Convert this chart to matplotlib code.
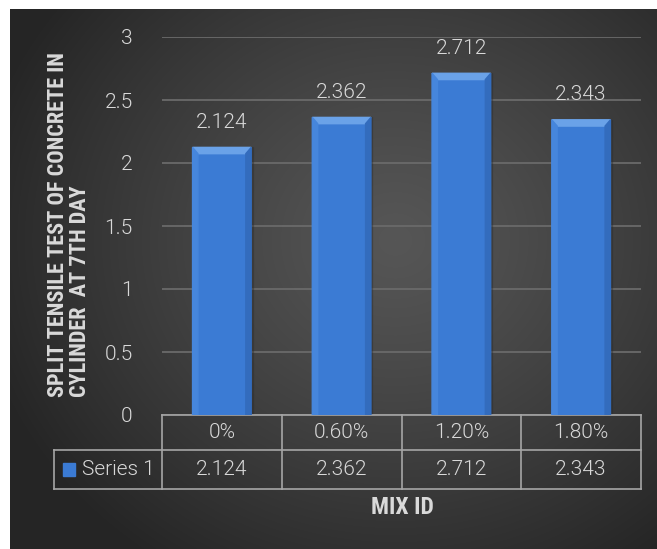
import matplotlib.pyplot as plt
import numpy as np
from matplotlib.patches import Polygon, Rectangle
from matplotlib.lines import Line2D
from matplotlib import font_manager

# data
mix_ids = ["0%", "0.60%", "1.20%", "1.80%"]
tensile = [2.124, 2.362, 2.712, 2.343]
series_name = "Series 1"
yticks = [0, 0.5, 1, 1.5, 2, 2.5, 3]

avail = {f.name for f in font_manager.fontManager.ttflist}
num_font = "Roboto" if "Roboto" in avail else "DejaVu Sans"
lab_font = num_font
for cand in ["Roboto Condensed", "Liberation Sans Narrow"]:
    if cand in avail:
        lab_font = cand
        break
txt_col = "#d9d9d9"
num_kw = dict(fontsize=15, color=txt_col, family=num_font, fontweight=300)

W, H = 657, 549
fig = plt.figure(figsize=(W / 100, H / 100), dpi=100)
fig.patch.set_facecolor("#2a2a2a")

# dark radial gradient background
bg = fig.add_axes([0, 0, 1, 1], zorder=-5)
yy, xx = np.mgrid[0:H, 0:W]
r = np.sqrt(((xx - 395) / 430.0) ** 2 + ((yy - 240) / 390.0) ** 2)
r = np.clip(r, 0, 1)
shade = 0x56 - (0x56 - 0x25) * r ** 1.2
img = np.dstack([shade, shade, shade]) / 255.0
img[:9, :, :] = 1.0
img[:, :10, :] = 1.0
bg.imshow(img, aspect="auto", extent=[0, 1, 0, 1], interpolation="nearest")
bg.set_xlim(0, 1)
bg.set_ylim(0, 1)
bg.set_axis_off()

ax = fig.add_axes([162 / W, 1 - 415 / H, 479 / W, 378 / H])
ax.set_facecolor("none")
ax.set_xlim(-0.5, len(mix_ids) - 0.5)
ax.set_ylim(0, 3)
for s in ax.spines.values():
    s.set_visible(False)
ax.set_xticks([])
ax.set_yticks(yticks)
ax.set_yticklabels([f"{t:g}" for t in yticks], **num_kw)
ax.tick_params(axis="y", length=0, pad=21)
ax.yaxis.grid(True, color="#6a6a6a", linewidth=1.3)
ax.set_axisbelow(True)

x = np.arange(len(mix_ids))
bw = 0.49
bars = ax.bar(x, tensile, width=bw, color="#3b7bd4", edgecolor="none", zorder=3)

# bevel look on the bars
dx, dy = 0.045, 0.05
for b, v in zip(bars, tensile):
    x0 = b.get_x()
    x1 = x0 + b.get_width()
    ax.add_patch(Rectangle((x1, 0), 0.012, v, color="#2a2a2a", alpha=0.3, zorder=2))
    ax.add_patch(Polygon([(x0, v), (x1, v), (x1 - dx, v - dy), (x0 + dx, v - dy)],
                         closed=True, color="#6aa2e8", zorder=4))
    ax.add_patch(Polygon([(x0, v), (x0 + dx, v - dy), (x0 + dx, 0), (x0, 0)],
                         closed=True, color="#4686dc", zorder=4))
    ax.add_patch(Polygon([(x1, v), (x1 - dx, v - dy), (x1 - dx, 0), (x1, 0)],
                         closed=True, color="#336cbd", zorder=4))
    ax.annotate(f"{v:.3f}", (b.get_x() + b.get_width() / 2, v), xytext=(0, 18),
                textcoords="offset points", ha="center", va="center", **num_kw)

# data table below the axis
tr = ax.get_xaxis_transform()
row1 = -35 / 378
row2 = -74 / 378
leg_left = -0.5 - 108 / 120
lc = "#a6a6a6"
lw = 1.2
ax.add_line(Line2D([-0.5, 3.5], [0, 0], transform=tr, color=lc, lw=lw, clip_on=False))
ax.add_line(Line2D([leg_left, 3.5], [row1, row1], transform=tr, color=lc, lw=lw, clip_on=False))
ax.add_line(Line2D([leg_left, 3.5], [row2, row2], transform=tr, color=lc, lw=lw, clip_on=False))
ax.add_line(Line2D([leg_left, leg_left], [row1, row2], transform=tr, color=lc, lw=lw, clip_on=False))
for i in range(len(mix_ids) + 1):
    xe = i - 0.5
    ax.add_line(Line2D([xe, xe], [0, row2], transform=tr, color=lc, lw=lw, clip_on=False))
for i, (m, v) in enumerate(zip(mix_ids, tensile)):
    ax.text(i, row1 / 2, m, transform=tr, ha="center", va="center", **num_kw)
    ax.text(i, (row1 + row2) / 2, f"{v:.3f}", transform=tr, ha="center", va="center", **num_kw)
# legend key in table
ax.add_patch(Rectangle((leg_left + 0.075, (row1 + row2) / 2 - 0.018), 0.1, 0.036,
                       transform=tr, color="#3b7bd4", clip_on=False))
ax.text(leg_left + 0.23, (row1 + row2) / 2, series_name, transform=tr, ha="left",
        va="center", **num_kw)

fig.text(402 / W, 1 - 508 / H, "MIX ID", ha="center", va="center", fontsize=17,
         fontweight="bold", color=txt_col, family=lab_font)
fig.text(69 / W, 1 - 225 / H, "SPLIT TENSILE TEST OF CONCRETE IN\nCYLINDER  AT 7TH DAY",
         rotation=90, ha="center", va="center", fontsize=16, fontweight="bold",
         color=txt_col, family=lab_font, linespacing=1.0, multialignment="left")

fig.savefig("out.png", dpi=100, facecolor=fig.get_facecolor(), bbox_inches=None)
